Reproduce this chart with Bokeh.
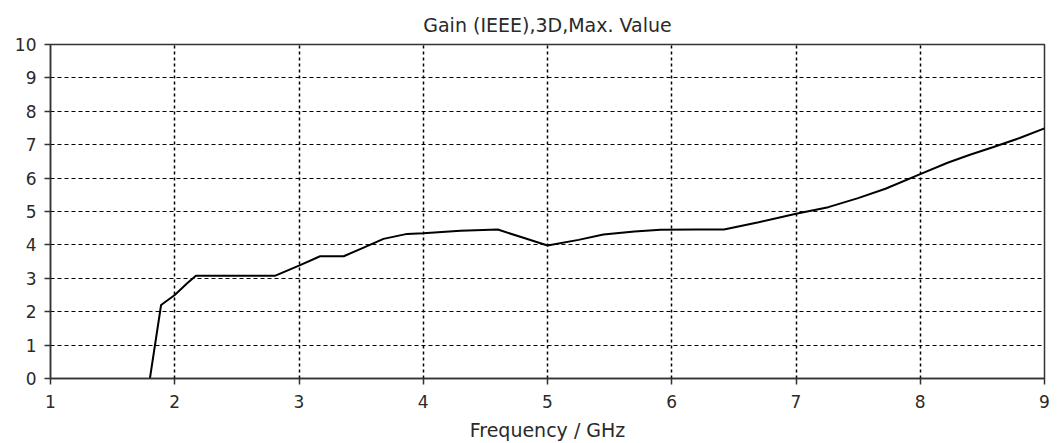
from bokeh.plotting import figure
from bokeh.models import Range1d, FixedTicker
from bokeh.embed import file_html
from bokeh.resources import INLINE

freq = [1.80, 1.89, 2.00, 2.10, 2.17, 2.50, 2.81, 3.00, 3.17, 3.36, 3.52, 3.68, 3.87,
        4.00, 4.30, 4.60, 4.80, 5.00, 5.25, 5.45, 5.70, 5.91, 6.20, 6.42, 6.70,
        7.00, 7.26, 7.50, 7.72, 8.00, 8.22, 8.40, 8.59, 8.80, 9.00]
gain = [0.00, 2.20, 2.50, 2.85, 3.08, 3.08, 3.08, 3.38, 3.66, 3.66, 3.92, 4.18, 4.33,
        4.35, 4.42, 4.46, 4.22, 3.98, 4.15, 4.31, 4.40, 4.45, 4.46, 4.46, 4.68,
        4.93, 5.13, 5.40, 5.68, 6.12, 6.46, 6.70, 6.93, 7.20, 7.49]
x_ticks = [1, 2, 3, 4, 5, 6, 7, 8, 9]
y_ticks = [0, 1, 2, 3, 4, 5, 6, 7, 8, 9, 10]

FONT = "DejaVu Sans"
TXT = "#2a2a2a"

p = figure(width=1061, height=443, output_backend="svg", toolbar_location=None,
           x_range=Range1d(1, 9), y_range=Range1d(0, 10),
           min_border_left=50, min_border_right=17, min_border_top=44, min_border_bottom=65,
           title="Gain (IEEE),3D,Max. Value")
p.title.align = "center"
p.title.text_font = FONT
p.title.text_font_size = "19px"
p.title.text_font_style = "normal"
p.title.text_color = TXT
p.title.standoff = 18

p.line(freq, gain, line_color="black", line_width=2)

p.xaxis.ticker = FixedTicker(ticks=x_ticks)
p.yaxis.ticker = FixedTicker(ticks=y_ticks)
for ax in (p.xaxis[0], p.yaxis[0]):
    ax.axis_line_color = "#333333"
    ax.axis_line_width = 1.5
    ax.major_tick_line_color = "#333333"
    ax.major_tick_line_width = 1.5
    ax.major_tick_out = 6
    ax.major_tick_in = 0
    ax.minor_tick_line_color = None
    ax.major_label_text_font = FONT
    ax.major_label_text_font_size = "17px"
    ax.major_label_text_color = TXT
p.xaxis.major_label_standoff = 10
p.yaxis.major_label_standoff = 8
p.xaxis.axis_label = "Frequency / GHz"
p.xaxis.axis_label_text_font = FONT
p.xaxis.axis_label_text_font_size = "19px"
p.xaxis.axis_label_text_font_style = "normal"
p.xaxis.axis_label_text_color = TXT
p.xaxis.axis_label_standoff = 8

p.xgrid.grid_line_color = "black"
p.xgrid.grid_line_dash = "3 3"
p.xgrid.grid_line_width = 1.5
p.ygrid.grid_line_color = "black"
p.ygrid.grid_line_dash = "4 3"
p.ygrid.grid_line_width = 1.2
p.outline_line_color = "#333333"
p.outline_line_width = 1.5
p.background_fill_color = "white"
p.border_fill_color = "white"

open("out.html", "w").write(file_html(p, INLINE))
